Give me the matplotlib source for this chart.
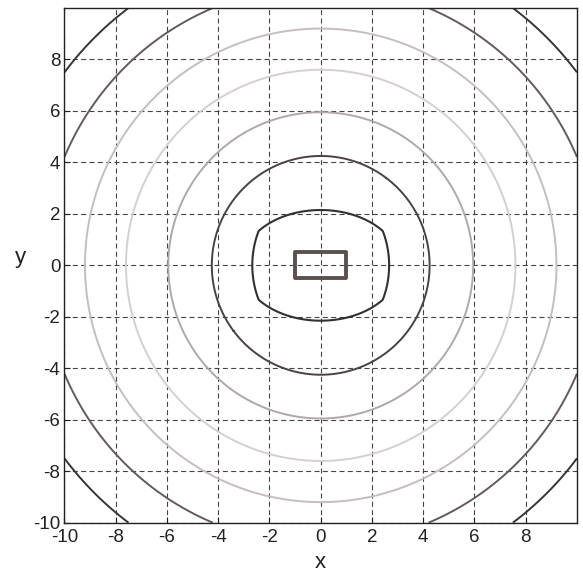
import numpy as np
import matplotlib
matplotlib.use("Agg")
import matplotlib.pyplot as plt

plt.rcParams['font.family'] = ['Liberation Sans', 'DejaVu Sans']
plt.rcParams['axes.unicode_minus'] = False

# Inner contours: rectangle half-sizes and the rounded box
rect_half = [1.0, 0.5]              # half-width, half-height of inner rectangle
box_side = [2.67, 3.17]             # semi-axes of the slightly bulging sides
box_arc = [3.09, 2.15]              # semi-axes of the arc closing top/bottom
# Outer (circular) contour radii
circle_levels = [4.25, 5.95, 7.6, 9.2, 10.85, 12.5]

rect_color = '#5a5050'
box_color = '#353030'
circle_colors = ['#4a4242', '#b0a8a8', '#d6cfcf', '#c6bebe', '#645a5a', '#3a3434']

x_ticks = [-10, -8, -6, -4, -2, 0, 2, 4, 6, 8]
y_ticks = [-10, -8, -6, -4, -2, 0, 2, 4, 6, 8]

xs = np.linspace(-10, 10, 801)
ys = np.linspace(-10, 10, 801)
X, Y = np.meshgrid(xs, ys)

F_rect = np.maximum(np.abs(X) / rect_half[0], np.abs(Y) / rect_half[1])
F_box = np.maximum(np.sqrt((X / box_side[0]) ** 2 + (Y / box_side[1]) ** 2),
                   np.sqrt((X / box_arc[0]) ** 2 + (Y / box_arc[1]) ** 2))
R = np.hypot(X, Y)

fig = plt.figure(figsize=(5.83, 5.72), dpi=100)
ax = fig.add_axes([0.1106, 0.0862, 0.879, 0.8998])

ax.contour(X, Y, F_rect, levels=[1.0], colors=[rect_color], linewidths=2.8)
ax.contour(X, Y, F_box, levels=[1.0], colors=[box_color], linewidths=1.5)
ax.contour(X, Y, R, levels=circle_levels, colors=circle_colors, linewidths=1.4)

ax.set_xlim(-10, 10)
ax.set_ylim(-10, 10)
ax.set_xticks(x_ticks)
ax.set_yticks(y_ticks)
ax.tick_params(direction='in', length=4, width=0.8, labelsize=13.5,
               colors='#222222')
ax.tick_params(axis='x', pad=4.5)
ax.tick_params(axis='y', pad=3)
ax.grid(True, linestyle=(0, (4.5, 3)), color='#444444', linewidth=0.8)
for s in ax.spines.values():
    s.set_color('#222222')
    s.set_linewidth(1.0)

ax.set_xlabel('x', fontsize=16, color='#222222')
ax.set_ylabel('y', fontsize=16, rotation=0, color='#222222')
ax.xaxis.set_label_coords(0.5, -0.056)
ax.yaxis.set_label_coords(-0.085, 0.515)
ax.yaxis.label.set_va('center')
ax.yaxis.label.set_ha('center')

fig.savefig('out.png', dpi=100)
